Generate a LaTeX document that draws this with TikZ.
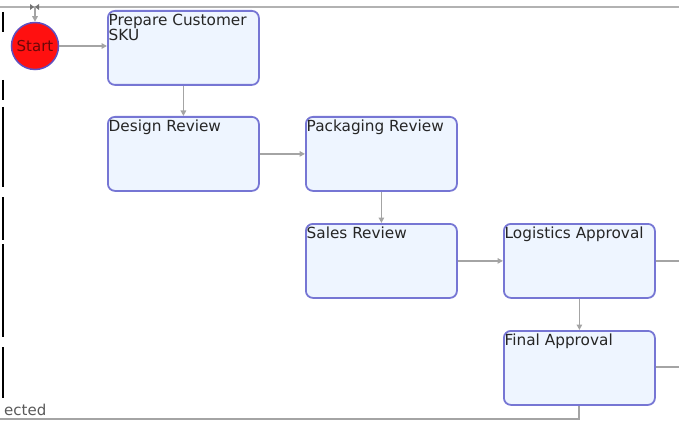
\documentclass[tikz,border=0pt]{standalone}
\usepackage{fontspec}
\usepackage{xcolor}
\usepackage{tikz}
\usetikzlibrary{positioning,arrows.meta}

\newfontfamily\flowfont{DejaVu Sans}

\definecolor{boxfill}{HTML}{EEF5FF}
\definecolor{boxline}{HTML}{7676D4}
\definecolor{flowgray}{HTML}{A4A4A4}
\definecolor{startline}{HTML}{5E4FC0}
\definecolor{startred}{HTML}{FF1010}
\definecolor{starttext}{HTML}{6A0808}

\tikzset{
  stage/.style={draw=boxline, fill=boxfill, line width=1.8pt, rounded corners=7pt,
    minimum width=151pt, minimum height=74pt, anchor=north west, inner sep=0pt},
  stagetext/.style={anchor=north west, inner xsep=1.5pt, inner ysep=3.5pt, align=left, text=black!85,
    font=\flowfont\fontsize{15.3}{15}\selectfont},
  flow/.style={flowgray, line width=1.8pt, -{Triangle[length=5.5pt,width=5.5pt]}},
  flowout/.style={flowgray, line width=1.8pt}
}

\begin{document}
\begin{tikzpicture}[x=1pt, y=-1pt]
    \useasboundingbox (0,0) rectangle (679,422);

    \coordinate (Top) at (35, 7);
    \coordinate (StartPos) at (35, 46);
    \coordinate (PrepPos) at (107, 10);
    \coordinate (DesignPos) at (107, 116);
    \coordinate (PackPos) at (305, 116);
    \coordinate (SalesPos) at (305, 223);
    \coordinate (LogPos) at (503, 223);
    \coordinate (FinalPos) at (503, 330);

    \coordinate (LogOut) at (679, 260);
    \coordinate (FinalOut) at (679, 367);
    \coordinate (RejBend) at (579, 419);
    \coordinate (RejEnd) at (0, 419);

    % swimlane edges
    \draw [flowgray!85, line width=2pt] (0, 7) to (679, 7);
    \draw [black, line width=1.5pt] (3, 12) to (3, 32);
    \draw [black, line width=1.5pt] (3, 80) to (3, 100);
    \draw [black, line width=1.5pt] (3, 107) to (3, 187);
    \draw [black, line width=1.5pt] (3, 197) to (3, 240);
    \draw [black, line width=1.5pt] (3, 244) to (3, 337);
    \draw [black, line width=1.5pt] (3, 347) to (3, 398);
    \fill [black!55] (30, 4) -- (34, 7) -- (30, 10) -- cycle;
    \fill [black!55] (39, 4) -- (35, 7) -- (39, 10) -- cycle;

    \node [circle, fill=startred, draw=startline, line width=1.5pt, minimum size=47pt,
      inner sep=0pt, text=starttext, font=\flowfont\fontsize{15}{15}\selectfont] (start) at (StartPos) {Start};

    \node [stage, label={[stagetext]north west:Prepare Customer\\SKU}] (prep) at (PrepPos) {};
    \node [stage, label={[stagetext]north west:Design Review}] (design) at (DesignPos) {};
    \node [stage, label={[stagetext]north west:Packaging Review}] (pack) at (PackPos) {};
    \node [stage, label={[stagetext]north west:Sales Review}] (sales) at (SalesPos) {};
    \node [stage, label={[stagetext]north west:Logistics Approval}] (logistics) at (LogPos) {};
    \node [stage, label={[stagetext]north west:Final Approval}] (final) at (FinalPos) {};

    \draw [flow] (Top) to (start);
    \draw [flow] (start) to (prep.west |- start);
    \draw [flow] (prep) to (design);
    \draw [flow] (design) to (pack);
    \draw [flow] (pack) to (sales);
    \draw [flow] (sales) to (logistics);
    \draw [flow] (logistics) to (final);
    \draw [flowout] (logistics.east) to (logistics.east -| LogOut);
    \draw [flowout] (final.east |- FinalOut) to (FinalOut);
    \draw [flowout] (final.south -| RejBend) to (RejBend) to (RejEnd);

    \node [anchor=base west, inner sep=0pt, text=black!65,
      font=\flowfont\fontsize{15}{15}\selectfont] (rejected) at (4, 415) {ected};
\end{tikzpicture}
\end{document}
